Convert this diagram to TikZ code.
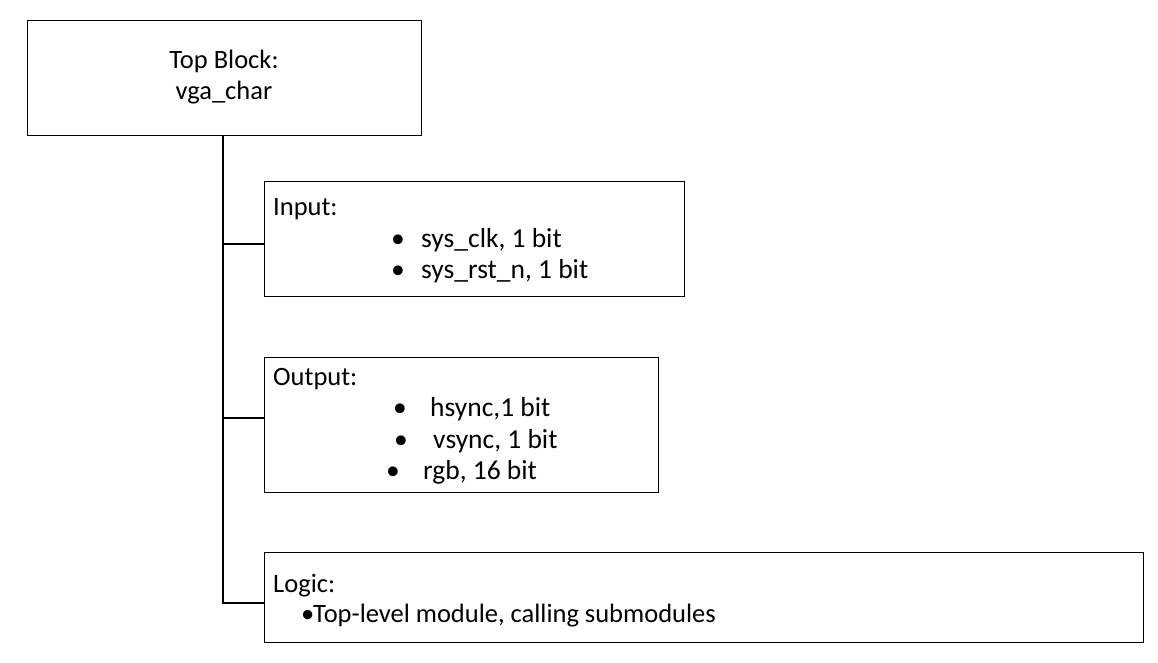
\documentclass[tikz,border=0pt]{standalone}
\usepackage{fontspec}
\setmainfont{Carlito}
\begin{document}
\begin{tikzpicture}[x=1pt,y=-1pt,
  blk/.style={draw,line width=1.3pt,inner sep=0pt,anchor=north west},
  txt/.style={inner sep=0pt,anchor=base west,font=\fontsize{26.5}{31}\selectfont},
  wtxt/.style={txt,font=\fontsize{27.5}{31}\selectfont},
  wire/.style={line width=1.3pt}]
\useasboundingbox (0,0) rectangle (1158,663);
% boxes
\node[blk,minimum width=394pt,minimum height=115pt] (top) at (27,20) {};
\node[blk,minimum width=420pt,minimum height=115pt] (input) at (264,181) {};
\node[blk,minimum width=394pt,minimum height=135pt] (output) at (264,357) {};
\node[blk,minimum width=879pt,minimum height=90pt] (logic) at (264,552) {};
% top text
\node[txt,anchor=base] (t1) at (224,69) {Top Block:};
\node[txt,anchor=base] (t2) at (224,100) {vga\_char};
% input text
\node[txt] (i0) at (273,215) {Input:};
\node[wtxt] (ib1) at (391,247) {\textbullet};
\node[wtxt] (i1) at (421,247) {sys\_clk, 1 bit};
\node[wtxt] (ib2) at (391,278) {\textbullet};
\node[wtxt] (i2) at (421,278) {sys\_rst\_n, 1 bit};
% output text
\node[txt] (o0) at (273,385) {Output:};
\node[wtxt] (ob1) at (393,416) {\textbullet};
\node[wtxt] (o1) at (430,416) {hsync,1 bit};
\node[wtxt] (ob2) at (394,448) {\textbullet};
\node[wtxt] (o2) at (433,448) {vsync, 1 bit};
\node[wtxt] (ob3) at (386,479) {\textbullet};
\node[wtxt] (o3) at (423,479) {rgb, 16 bit};
% logic text
\node[txt] (l0) at (273,592) {Logic:};
\node[txt] (lb) at (301,622) {\textbullet};
\node[txt] (l1) at (313,622) {Top-level module, calling submodules};
% connectors
\coordinate (j1) at (223,244);
\coordinate (j2) at (223,418);
\coordinate (j3) at (223,603);
\draw[wire] (top.south -| j1) -- (j3) -- (logic.west |- j3);
\draw[wire] (j1) -- (input.west |- j1);
\draw[wire] (j2) -- (output.west |- j2);
\end{tikzpicture}
\end{document}
